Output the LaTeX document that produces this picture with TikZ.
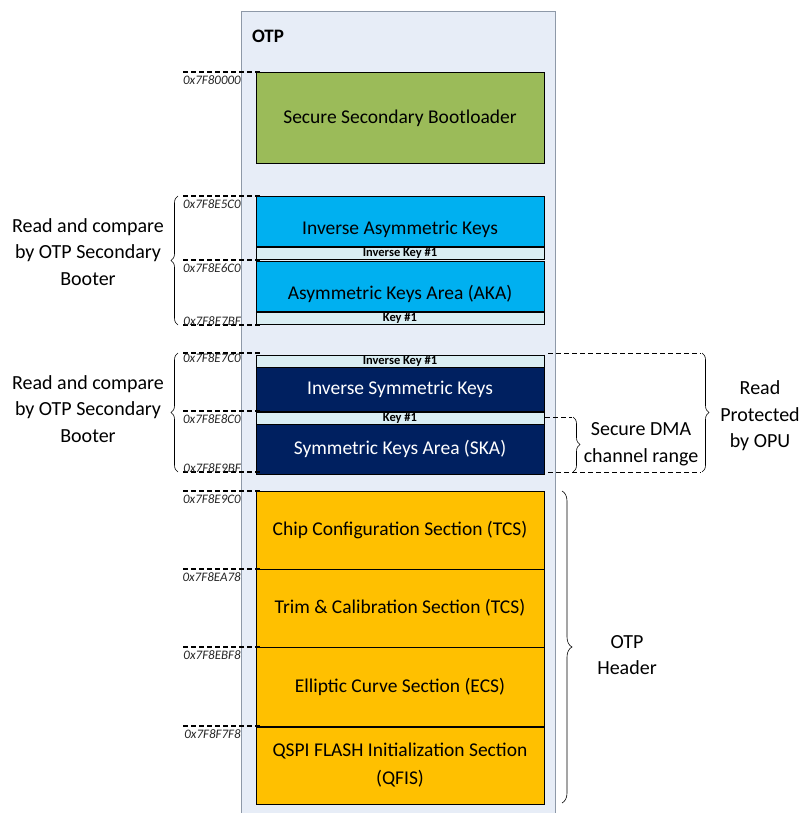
\documentclass[tikz,border=0pt]{standalone}
\usepackage{fontspec}
\setmainfont{Carlito}
\usetikzlibrary{decorations.pathreplacing}
\definecolor{otpbg}{HTML}{E7EDF7}
\definecolor{otpborder}{HTML}{8E99A8}
\definecolor{sbgreen}{HTML}{9BBB59}
\definecolor{akblue}{HTML}{00B0F0}
\definecolor{keybar}{HTML}{DAEEF3}
\definecolor{navy}{HTML}{002060}
\definecolor{hdrorange}{HTML}{FFC000}
\tikzset{
  region/.style={draw=black, line width=0.6pt, minimum width=288pt, inner sep=0pt, outer sep=0pt, font=\fontsize{19.5}{23}\selectfont, align=center},
  lowtext/.style={text height=30pt, text depth=3pt},
  keybarbox/.style={region, fill=keybar, font=\bfseries\fontsize{12.5}{13}\selectfont},
  addr/.style={font=\itshape\fontsize{13}{14}\selectfont, text=black!85, inner sep=0pt},
  addrline/.style={dashed, line width=1.3pt, dash pattern=on 5pt off 3pt},
  sidetext/.style={font=\fontsize{20}{26.5}\selectfont, align=center},
  bracel/.style={decorate, decoration={brace, amplitude=7pt}, line width=0.6pt},
}
\begin{document}
\begin{tikzpicture}[x=1pt,y=-1pt]
\useasboundingbox (0,0) rectangle (801,813);
% OTP container
\fill[otpbg] (241,11) rectangle (555,813);
\draw[otpborder, line width=0.8pt] (241,813) -- (241,11) -- (555,11) -- (555,813);
\node[font=\bfseries\fontsize{19}{21}\selectfont] (otp) at (268,36) {OTP};

% regions
\node[region, fill=sbgreen, minimum height=91pt, text height=16pt, text depth=3pt] (ssb) at (400,117.5) {Secure Secondary Bootloader};

\node[region, lowtext, fill=akblue, minimum height=50pt] (iak) at (400,221) {Inverse Asymmetric Keys};
\node[keybarbox, minimum height=12pt] (ik1a) at (400,253) {Inverse Key \#1};
\node[region, lowtext, fill=akblue, minimum height=50pt] (aka) at (400,286) {Asymmetric Keys Area (AKA)};
\node[keybarbox, minimum height=12pt] (k1a) at (400,318.5) {Key \#1};

\node[keybarbox, minimum height=12pt] (ik1b) at (400,361) {Inverse Key \#1};
\node[region, fill=navy, text=white, minimum height=44pt] (isk) at (400,389) {Inverse Symmetric Keys};
\node[keybarbox, minimum height=12pt] (k1b) at (400,418) {Key \#1};
\node[region, fill=navy, text=white, minimum height=50pt] (ska) at (400,449) {Symmetric Keys Area (SKA)};

\node[region, fill=hdrorange, minimum height=78pt] (ccs) at (400,530) {Chip Configuration Section (TCS)};
\node[region, fill=hdrorange, minimum height=78pt] (tcs) at (400,608) {Trim \& Calibration Section (TCS)};
\node[region, fill=hdrorange, minimum height=79pt] (ecs) at (400,686.5) {Elliptic Curve Section (ECS)};
\node[region, fill=hdrorange, minimum height=77pt, font=\fontsize{19.5}{28}\selectfont] (qfis) at (400,765.5) {QSPI FLASH Initialization Section\\(QFIS)};

% address markers
\foreach \n/\y in {a/72, b/196, c/260, d/325, e/353, f/411, g/472, h/491, i/569, j/647, k/726} {
  \coordinate (l\n) at (183,\y);
  \coordinate (r\n) at (262,\y);
  \draw[addrline] (l\n) -- (r\n);
}
\node[addr, anchor=north east] (ad1) at (241,75) {0x7F80000};
\node[addr, anchor=north east] (ad2) at (241,199) {0x7F8E5C0};
\node[addr, anchor=north east] (ad3) at (241,263) {0x7F8E6C0};
\node[addr, anchor=base east] (ad4) at (241,325) {0x7F8E7BF};
\node[addr, anchor=base east] (ad5) at (241,362) {0x7F8E7C0};
\node[addr, anchor=north east] (ad6) at (241,414) {0x7F8E8C0};
\node[addr, anchor=base east] (ad7) at (241,472) {0x7F8E9BF};
\node[addr, anchor=north east] (ad8) at (241,494) {0x7F8E9C0};
\node[addr, anchor=north east] (ad9) at (241,572) {0x7F8EA78};
\node[addr, anchor=north east] (ad10) at (241,650) {0x7F8EBF8};
\node[addr, anchor=north east] (ad11) at (241,729) {0x7F8F7F8};

% left braces
\draw[bracel] (178,325) -- (178,196);
\node[sidetext] (rc1) at (88,252) {Read and compare\\by OTP Secondary\\Booter};
\draw[bracel] (178,472) -- (178,353);
\node[sidetext] (rc2) at (88,409) {Read and compare\\by OTP Secondary\\Booter};

% right braces
\coordinate (rpT0) at (548,353);
\coordinate (rpT1) at (701,353);
\coordinate (rpB0) at (548,472);
\coordinate (rpB1) at (701,472);
\draw[addrline, line width=1pt] (rpT0) -- (rpT1);
\draw[addrline, line width=1pt] (rpB0) -- (rpB1);
\draw[bracel] (702,353) -- (702,472);
\node[sidetext] (rpo) at (760,416) {Read\\Protected\\by OPU};

\coordinate (dmT0) at (545,417);
\coordinate (dmT1) at (572,417);
\draw[addrline, line width=1pt] (dmT0) -- (dmT1);
\draw[bracel] (573,417) -- (573,472);
\node[sidetext] (dma) at (641,444) {Secure DMA\\channel range};

\draw[bracel, decoration={brace, amplitude=10pt}] (562,491) -- (562,803);
\node[sidetext] (hdr) at (627,655) {OTP\\Header};
\end{tikzpicture}
\end{document}
